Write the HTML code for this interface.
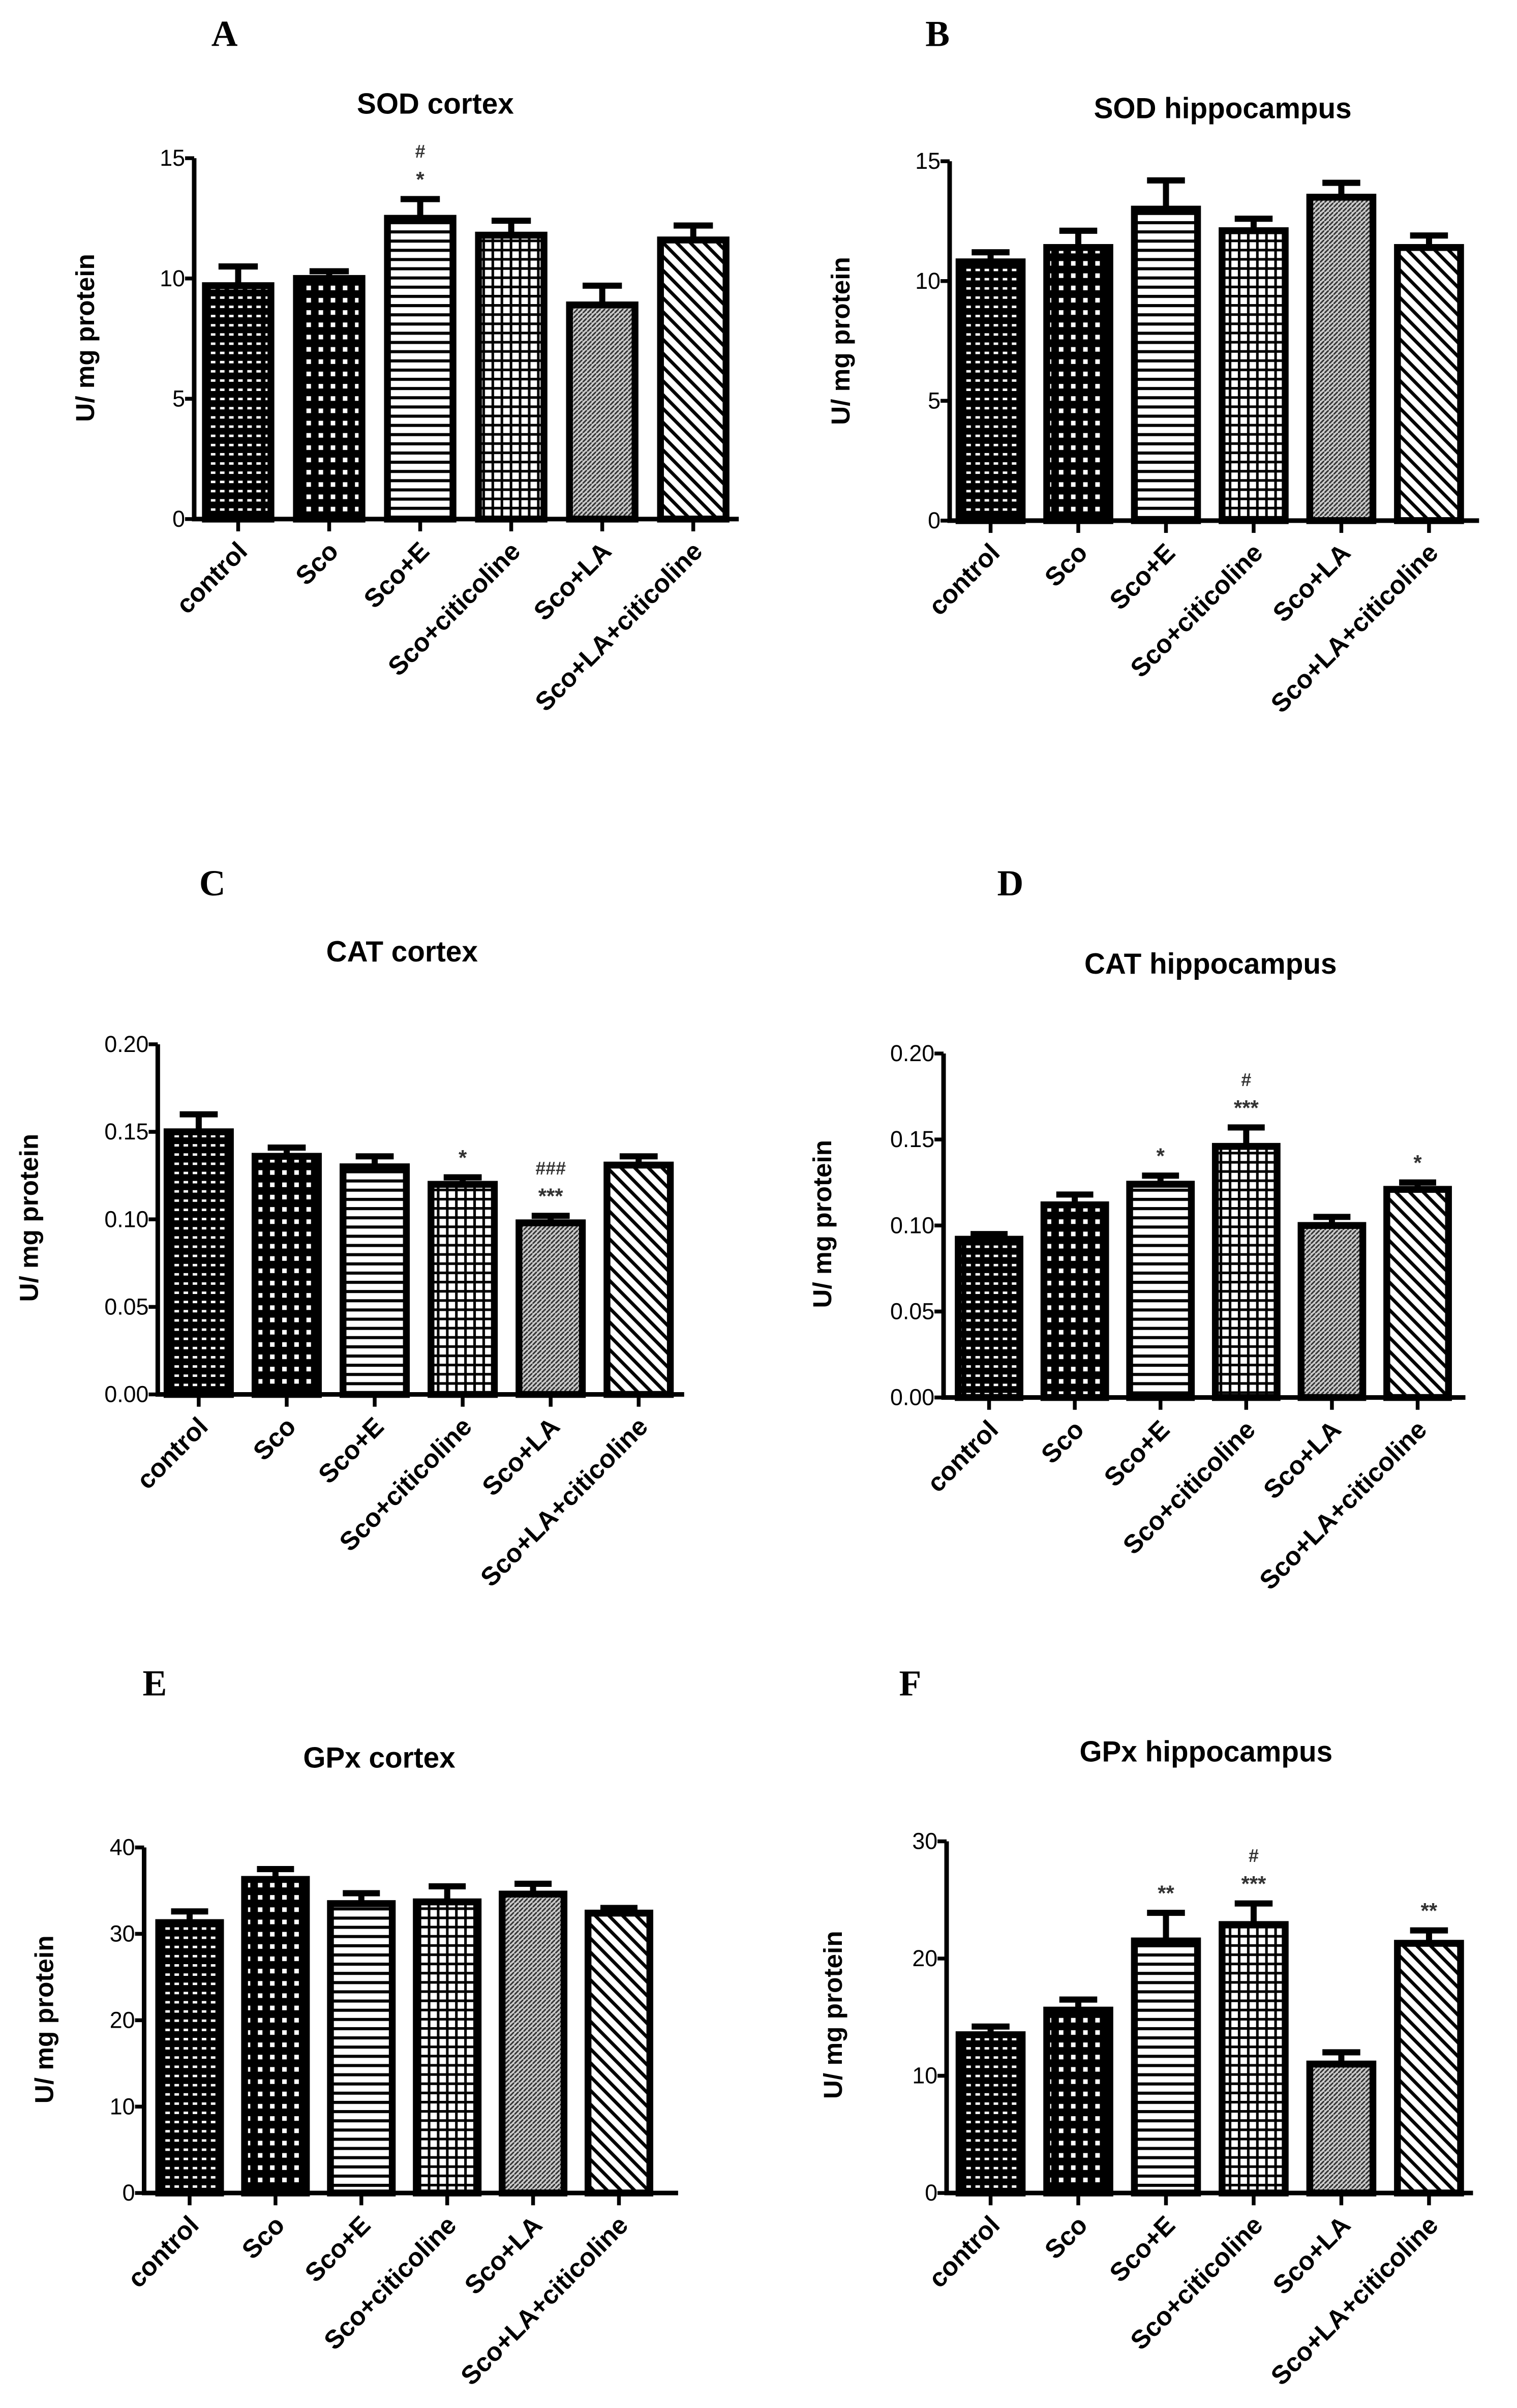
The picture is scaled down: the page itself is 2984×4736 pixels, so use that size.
<!DOCTYPE html>
<html><head><meta charset="utf-8"><style>
html,body{margin:0;padding:0;background:#fff}
svg{display:block}
text{font-family:"Liberation Sans",sans-serif}
text.serif{font-family:"Liberation Serif",serif}
</style></head><body>
<svg id="fig" width="2984" height="4736" viewBox="0 0 1000 1568" preserveAspectRatio="none" xmlns="http://www.w3.org/2000/svg">
<defs>
<pattern id="p0" patternUnits="userSpaceOnUse" width="6" height="6"><rect width="6" height="6" fill="#000"/><rect x="1" y="1" width="3" height="1.6" fill="#fff"/></pattern>
<pattern id="p1" patternUnits="userSpaceOnUse" width="8" height="8"><rect width="8" height="8" fill="#000"/><rect x="2" y="2" width="3" height="3" fill="#fff"/></pattern>
<pattern id="p2" patternUnits="userSpaceOnUse" width="6" height="6"><rect width="6" height="6" fill="#fff"/><rect y="0" width="6" height="2" fill="#000"/></pattern>
<pattern id="p3" patternUnits="userSpaceOnUse" width="6" height="6"><rect width="6" height="6" fill="#000"/><rect x="1.7" y="1.7" width="4.3" height="4.3" fill="#fff"/></pattern>
<pattern id="p4" patternUnits="userSpaceOnUse" width="3" height="3"><rect width="3" height="3" fill="#ccc"/><path d="M0 3L3 0" stroke="#333" stroke-width="1"/></pattern>
<pattern id="p5" patternUnits="userSpaceOnUse" width="9" height="9"><rect width="9" height="9" fill="#fff"/><path d="M-1 -1L10 10M-1 8L1 10M8 -1L10 1" stroke="#000" stroke-width="2.2"/></pattern>
</defs>
</svg>
<script>
const categories = ["control","Sco","Sco+E","Sco+citicoline","Sco+LA","Sco+LA+citicoline"];
const sodCortexMeans = [9.7,10.0,12.5,11.8,8.9,11.6];
const sodCortexErr = [10.5,10.3,13.3,12.4,9.7,12.2];
const sodCortexSig = [[],[],["*","#"],[],[],[]];
const sodHippoMeans = [10.8,11.4,13.0,12.1,13.5,11.4];
const sodHippoErr = [11.2,12.1,14.2,12.6,14.1,11.9];
const sodHippoSig = [[],[],[],[],[],[]];
const catCortexMeans = [0.150,0.136,0.130,0.120,0.098,0.131];
const catCortexErr = [0.160,0.141,0.136,0.124,0.102,0.136];
const catCortexSig = [[],[],[],["*"],["***","###"],[]];
const catHippoMeans = [0.092,0.112,0.124,0.146,0.100,0.121];
const catHippoErr = [0.095,0.118,0.129,0.157,0.105,0.125];
const catHippoSig = [[],[],["*"],["***","#"],[],["*"]];
const gpxCortexMeans = [31.3,36.3,33.5,33.7,34.6,32.4];
const gpxCortexErr = [32.6,37.5,34.7,35.5,35.8,33.0];
const gpxCortexSig = [[],[],[],[],[],[]];
const gpxHippoMeans = [13.5,15.6,21.5,22.9,11.0,21.3];
const gpxHippoErr = [14.2,16.5,23.9,24.7,12.0,22.4];
const gpxHippoSig = [[],[],["**"],["***","#"],[],["**"]];
const sodTicks = ["0","5","10","15"];
const catTicks = ["0.00","0.05","0.10","0.15","0.20"];
const gpxCTicks = ["0","10","20","30","40"];
const gpxHTicks = ["0","10","20","30"];

const NS="http://www.w3.org/2000/svg";
const svg=document.getElementById('fig');
function mk(tag,attrs,parent){const e=document.createElementNS(NS,tag);for(const k in attrs)e.setAttribute(k,attrs[k]);(parent||svg).appendChild(e);return e;}

const panels=[
 {id:"a",letter:"A",lx:148,ly:30,title:"SOD cortex",tx:287,ty:74,ax:128,top:103,base:338,end:487,first:157,sp:60,ylx:62,yly:220,means:sodCortexMeans,err:sodCortexErr,sig:sodCortexSig,ticks:sodTicks,max:15},
 {id:"b",letter:"B",lx:618,ly:30,title:"SOD hippocampus",tx:806,ty:77,ax:626,top:105,base:339,end:975,first:653,sp:57.8,ylx:560,yly:222,means:sodHippoMeans,err:sodHippoErr,sig:sodHippoSig,ticks:sodTicks,max:15},
 {id:"c",letter:"C",lx:140,ly:583,title:"CAT cortex",tx:265,ty:626,ax:104,top:680,base:908,end:451,first:131,sp:58,ylx:25,yly:793,means:catCortexMeans,err:catCortexErr,sig:catCortexSig,ticks:catTicks,max:0.20},
 {id:"d",letter:"D",lx:666,ly:583,title:"CAT hippocampus",tx:798,ty:634,ax:622,top:686,base:910,end:966,first:652,sp:56.5,ylx:548,yly:797,means:catHippoMeans,err:catHippoErr,sig:catHippoSig,ticks:catTicks,max:0.20},
 {id:"e",letter:"E",lx:102,ly:1104,title:"GPx cortex",tx:250,ty:1151,ax:95,top:1203,base:1428,end:447,first:125,sp:56.6,ylx:35,yly:1315,means:gpxCortexMeans,err:gpxCortexErr,sig:gpxCortexSig,ticks:gpxCTicks,max:40},
 {id:"f",letter:"F",lx:600,ly:1104,title:"GPx hippocampus",tx:795,ty:1147,ax:624,top:1199,base:1428,end:971,first:653,sp:57.8,ylx:555,yly:1312,means:gpxHippoMeans,err:gpxHippoErr,sig:gpxHippoSig,ticks:gpxHTicks,max:30}
];

panels.forEach(p=>{
 const g=mk('g',{});
 
 
 const y=v=>p.base-(v/p.max)*(p.base-p.top);
 const x=i=>p.first+i*p.sp;
 const bw=p.sp*0.72;
 const L=mk('text',{x:p.lx,y:p.ly,'font-size':24,'font-weight':'bold','text-anchor':'middle','class':'serif'},g);
 L.textContent=p.letter;
 
 
 const T=mk('text',{x:p.tx,y:p.ty,'font-size':19,'font-weight':'bold','text-anchor':'middle'},g);
 T.textContent=p.title;
 
 
 const Y=mk('text',{x:0,y:0,'font-size':17,'font-weight':'bold','text-anchor':'middle',transform:`translate(${p.ylx},${p.yly}) rotate(-90)`},g);
 Y.textContent="U/ mg protein";
 
 
 p.means.forEach((m,i)=>{
  const cx=x(i);
  const eb=mk('path',{d:`M${cx} ${y(m)}V${y(p.err[i])}M${cx-bw*0.3} ${y(p.err[i])}H${cx+bw*0.3}`,stroke:'#000','stroke-width':4,fill:'none'},g);
  
  
  const r=mk('rect',{x:cx-bw/2,y:y(m),width:bw,height:p.base-y(m),fill:`url(#p${i})`,stroke:'#000','stroke-width':4.5},g);
  
  
  let sy=y(p.err[i])-8;
  p.sig[i].forEach(s=>{
   const t=mk('text',{x:cx,y:sy,'font-size':s.indexOf('#')>=0?12:14,'font-weight':'bold','text-anchor':'middle',fill:'#333'},g);
   t.textContent=s;
   
   
   sy-=19;
  });
  const tk=mk('line',{x1:cx,x2:cx,y1:p.base,y2:p.base+8,stroke:'#000','stroke-width':2.5},g);
  
  
  const c=mk('text',{x:0,y:0,'font-size':17,'font-weight':'bold','text-anchor':'end',transform:`translate(${cx+7},${p.base+22}) rotate(-45)`},g);
  c.textContent=categories[i];
  
  
 });
 const ax=mk('path',{d:`M${p.ax} ${p.top}V${p.base}H${p.end}`,stroke:'#000','stroke-width':3,fill:'none'},g);
 
 
 p.ticks.forEach((tl,k)=>{
  const v=k*p.max/(p.ticks.length-1);
  const tk=mk('line',{x1:p.ax-6,x2:p.ax,y1:y(v),y2:y(v),stroke:'#000','stroke-width':2.5},g);
  
  
  const t=mk('text',{x:p.ax-6,y:y(v)+5,'font-size':15,'text-anchor':'end'},g);
  t.textContent=tl;
  
  
 });
});
</script>
</body></html>
